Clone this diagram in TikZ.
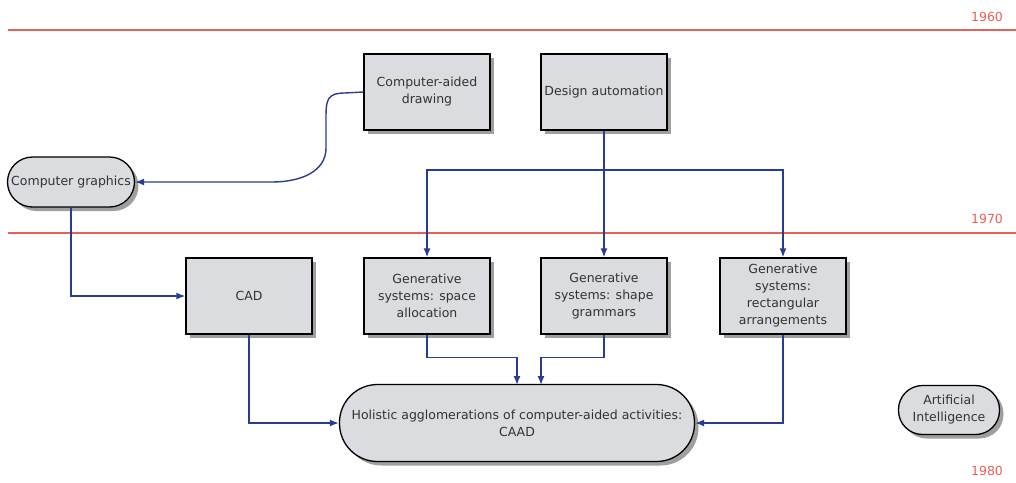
\documentclass[tikz,border=0pt]{standalone}
\usepackage{fontspec}
\setmainfont{DejaVu Sans}
\usetikzlibrary{shadows,arrows.meta}

\definecolor{boxgray}{RGB}{218,220,224}
\definecolor{linkblue}{RGB}{40,60,150}
\definecolor{eraRed}{RGB}{232,95,85}

\begin{document}
\begin{tikzpicture}[x=1pt, y=-1pt,
  box/.style = {draw, line width=1.3pt, fill=boxgray, minimum width=126pt, minimum height=76pt, align=center,
    font=\fontsize{12.5}{17}\selectfont, text=black!80,
    drop shadow={shadow xshift=4pt, shadow yshift=-4pt, fill=gray!75, opacity=1}},
  pill/.style = {box, rounded corners=#1},
  link/.style = {linkblue, line width=1.4pt, -{Latex[length=9pt,width=7pt]}},
  era/.style = {eraRed, line width=1.5pt},
  year/.style = {eraRed, font=\fontsize{12.5}{15}\selectfont}]
\useasboundingbox (0,0) rectangle (1016,482);

% decade lines
\draw[era] (8,30) -- (1016,30);
\draw[era] (8,233) -- (1016,233);
\node[year] (y60) at (987,17) {1960};
\node[year] (y70) at (987,219) {1970};
\node[year] (y80) at (987,471) {1980};

% nodes
\node[box] (cadraw) at (427,92) {Computer-aided\\drawing};
\node[box] (auto) at (604,92) {Design automation};
\node[pill=25pt, minimum width=127pt, minimum height=50pt] (graph) at (71,182) {Computer graphics};
\node[box] (cad) at (249,296) {CAD};
\node[box] (space) at (427,296) {Generative\\systems: space\\allocation};
\node[box] (shape) at (604,296) {Generative\\systems: shape\\grammars};
\node[box] (rect) at (783,296) {Generative\\systems:\\rectangular\\arrangements};
\node[pill=38pt, minimum width=355pt, minimum height=77pt] (caad) at (517,423) {Holistic agglomerations of computer-aided activities:\\CAAD};
\node[pill=24pt, minimum width=101pt, minimum height=49pt] (ai) at (949,410) {Artificial\\Intelligence};

% connectors
\draw[link] (cadraw.west) -- (345,93) .. controls (327,93) and (326,100) .. (326,118)
  -- (326,148) .. controls (326,172) and (300,182) .. (272,182) -- (graph.east);
\draw[link] (auto.south) -- (shape.north);
\draw[link] (604,170) -| (space.north);
\draw[link] (604,170) -| (rect.north);
\draw[link] (graph.south) |- (cad.west);
\draw[link] (cad.south) |- (caad.west);
\draw[link] (space.south) -- ++(0,23) -| (517,385);
\draw[link] (shape.south) -- ++(0,23) -| (541,385);
\draw[link] (rect.south) |- (caad.east);
\end{tikzpicture}
\end{document}
